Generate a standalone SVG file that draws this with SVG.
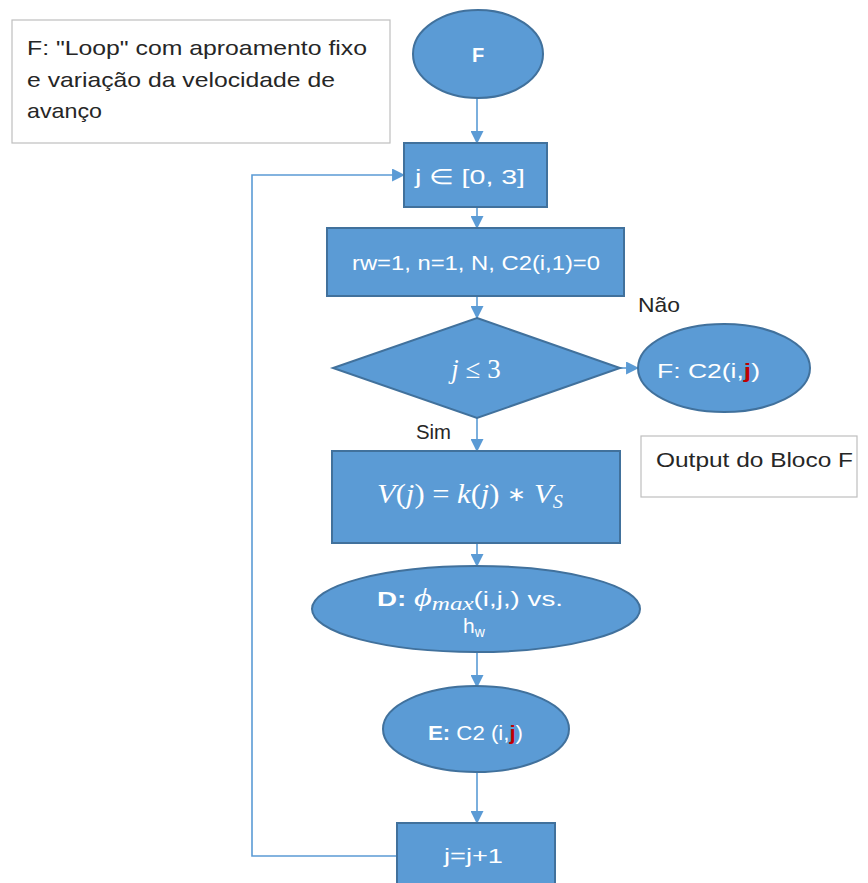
<svg xmlns="http://www.w3.org/2000/svg" width="868" height="883" viewBox="0 0 868 883">
  <defs>
    <style>
      .shape { fill: #5B9BD5; stroke: #41719C; stroke-width: 2; }
      .note { fill: #FFFFFF; stroke: #BFBFBF; stroke-width: 1.2; }
      .conn { fill: none; stroke: #5B9BD5; stroke-width: 1.6; }
      .w { fill: #FFFFFF; font-family: "Liberation Sans", Arial, sans-serif; }
      .k { fill: #262626; font-family: "Liberation Sans", Arial, sans-serif; }
      .m { fill: #FFFFFF; font-family: "Liberation Serif", "Times New Roman", serif; font-style: italic; }
      .red { fill: #C00000; font-weight: bold; }
    </style>
    <marker id="head" viewBox="0 0 12 12" refX="11" refY="6" markerWidth="13" markerHeight="13" markerUnits="userSpaceOnUse" orient="auto">
      <path d="M0,0 L12,6 L0,12 z" fill="#5B9BD5"/>
    </marker>
  </defs>

  <rect width="868" height="883" fill="#FFFFFF"/>

  <!-- connectors -->
  <g id="connectors">
    <line class="conn" x1="477" y1="98" x2="477" y2="143" marker-end="url(#head)"/>
    <line class="conn" x1="477" y1="207" x2="477" y2="228" marker-end="url(#head)"/>
    <line class="conn" x1="477" y1="296" x2="477" y2="318" marker-end="url(#head)"/>
    <line class="conn" x1="477" y1="418" x2="477" y2="451" marker-end="url(#head)"/>
    <line class="conn" x1="477" y1="543" x2="477" y2="566" marker-end="url(#head)"/>
    <line class="conn" x1="477" y1="652" x2="477" y2="687" marker-end="url(#head)"/>
    <line class="conn" x1="477" y1="772" x2="477" y2="823" marker-end="url(#head)"/>
    <line class="conn" x1="618" y1="368" x2="638" y2="368" marker-end="url(#head)"/>
    <polyline class="conn" points="397,856 252,856 252,175 404,175" marker-end="url(#head)"/>
  </g>

  <!-- description note -->
  <g id="note-desc">
    <rect class="note" x="12" y="20" width="378" height="123"/>
    <text class="k" font-size="21">
      <tspan x="27" y="55" textLength="340" lengthAdjust="spacingAndGlyphs">F: "Loop" com aproamento fixo</tspan>
      <tspan x="27" y="87" textLength="308" lengthAdjust="spacingAndGlyphs">e variação da velocidade de</tspan>
      <tspan x="27" y="118" textLength="75" lengthAdjust="spacingAndGlyphs">avanço</tspan>
    </text>
  </g>

  <!-- start -->
  <g id="node-f">
    <ellipse class="shape" cx="478" cy="54" rx="65" ry="44"/>
    <text class="w" x="478" y="62" font-size="20" font-weight="bold" text-anchor="middle">F</text>
  </g>

  <!-- loop range -->
  <g id="node-range">
    <rect class="shape" x="404" y="143" width="143" height="64"/>
    <text class="w" x="415" y="184" font-size="21" textLength="110" lengthAdjust="spacingAndGlyphs">j  ∈ [0, 3]</text>
  </g>

  <!-- initialisation -->
  <g id="node-init">
    <rect class="shape" x="327" y="228" width="297" height="68"/>
    <text class="w" x="352" y="270" font-size="21" textLength="248" lengthAdjust="spacingAndGlyphs">rw=1, n=1, N, C2(i,1)=0</text>
  </g>

  <!-- decision -->
  <g id="node-decision">
    <polygon class="shape" points="477,318 620,368 477,418 333,368"/>
    <text class="m" x="476" y="378" font-size="27" text-anchor="middle"><tspan>j</tspan><tspan font-style="normal"> ≤ 3</tspan></text>
  </g>

  <!-- exit output -->
  <g id="node-out">
    <ellipse class="shape" cx="724" cy="368" rx="86" ry="44"/>
    <text class="w" x="657" y="378" font-size="21" textLength="103" lengthAdjust="spacingAndGlyphs"><tspan>F: C2(i,</tspan><tspan class="red">j</tspan><tspan>)</tspan></text>
  </g>

  <text class="k" x="638" y="312" font-size="21" textLength="42" lengthAdjust="spacingAndGlyphs">Não</text>
  <text class="k" x="416" y="439" font-size="21" textLength="35" lengthAdjust="spacingAndGlyphs">Sim</text>

  <!-- output label -->
  <g id="note-output">
    <rect class="note" x="641" y="436" width="216" height="61"/>
    <text class="k" x="656" y="467" font-size="21" textLength="197" lengthAdjust="spacingAndGlyphs">Output do Bloco F</text>
  </g>

  <!-- speed update -->
  <g id="node-speed">
    <rect class="shape" x="332" y="451" width="288" height="92"/>
    <text class="m" x="377" y="503" font-size="27" textLength="186" lengthAdjust="spacingAndGlyphs">V<tspan font-style="normal">(</tspan>j<tspan font-style="normal">) = </tspan>k<tspan font-style="normal">(</tspan>j<tspan font-style="normal">) </tspan><tspan font-style="normal" font-size="20" dy="-2">∗</tspan><tspan font-style="normal" dy="2"> </tspan>V<tspan font-size="18" dy="5">S</tspan></text>
  </g>

  <!-- block D -->
  <g id="node-d">
    <ellipse class="shape" cx="476" cy="609" rx="164" ry="43"/>
    <text class="w" x="377" y="606" font-size="21" textLength="186" lengthAdjust="spacingAndGlyphs"><tspan font-weight="bold">D:</tspan><tspan> </tspan><tspan font-family="Liberation Serif, serif" font-style="italic" font-size="26">ϕ</tspan><tspan font-family="Liberation Serif, serif" font-style="italic" font-size="19" dy="4">max</tspan><tspan dy="-4">(i,j,) vs.</tspan></text>
    <text class="w" x="463" y="633" font-size="21">h<tspan font-size="14" dy="4">w</tspan></text>
  </g>

  <!-- block E -->
  <g id="node-e">
    <ellipse class="shape" cx="476" cy="729" rx="93" ry="43"/>
    <text class="w" x="428" y="740" font-size="21" textLength="95" lengthAdjust="spacingAndGlyphs"><tspan font-weight="bold">E:</tspan><tspan> C2 (i,</tspan><tspan class="red">j</tspan><tspan>)</tspan></text>
  </g>

  <!-- increment -->
  <g id="node-inc">
    <rect class="shape" x="397" y="823" width="158" height="72"/>
    <text class="w" x="444" y="863" font-size="21" textLength="59" lengthAdjust="spacingAndGlyphs">j=j+1</text>
  </g>
</svg>
